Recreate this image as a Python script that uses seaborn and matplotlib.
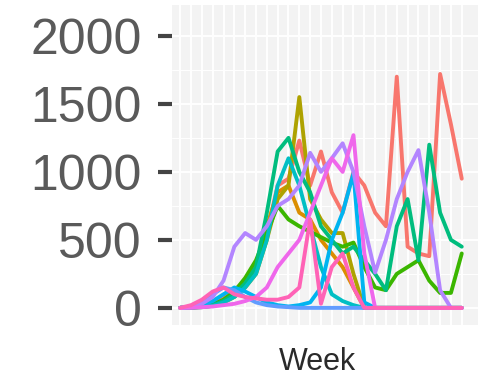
import matplotlib
matplotlib.use("Agg")
import matplotlib.pyplot as plt
import seaborn as sns
import numpy as np
import pandas as pd

# weekly counts per group
weeks = list(range(1, 28))

salmon = [0, 5, 15, 40, 80, 130, 200, 300, 550, 900, 950, 1230, 900, 1150, 850,
          700, 1000, 900, 700, 600, 1700, 450, 400, 380, 1720, 1350, 950]
orange = [0, 2, 8, 20, 50, 100, 180, 300, 600, 850, 900, 700, 650, 500, 400,
          300, 150, 0, 0, 0, 0, 0, 0, 0, 0, 0, 0]
olive = [0, 2, 5, 15, 40, 80, 150, 250, 500, 800, 900, 1550, 800, 650, 550,
         550, 250, 0, 0, 0, 0, 0, 0, 0, 0, 0, 0]
green = [0, 3, 10, 25, 60, 120, 220, 350, 550, 750, 650, 600, 560, 520, 480,
         450, 480, 300, 150, 130, 250, 300, 350, 200, 110, 110, 400]
teal_green = [0, 2, 8, 20, 50, 100, 180, 300, 700, 1150, 1250, 1000, 850, 600, 500,
              400, 450, 350, 250, 130, 600, 800, 350, 1200, 700, 500, 450]
teal = [0, 2, 5, 15, 40, 80, 150, 250, 500, 900, 1100, 900, 600, 300, 100,
        50, 20, 0, 0, 0, 0, 0, 0, 0, 0, 0, 0]
sky = [0, 5, 20, 50, 100, 150, 120, 80, 40, 20, 10, 20, 40, 150, 500,
       700, 990, 40, 0, 0, 0, 0, 0, 0, 0, 0, 0]
blue = [0, 10, 40, 100, 150, 130, 80, 40, 20, 10, 5, 0, 0, 0, 0,
        0, 0, 0, 0, 0, 0, 0, 0, 0, 0, 0, 0]
purple = [0, 10, 30, 80, 200, 450, 550, 500, 600, 750, 800, 900, 1140, 1000, 1100,
          1210, 1000, 600, 260, 500, 800, 1000, 1160, 700, 130, 0, 0]
magenta = [0, 0, 5, 10, 20, 30, 50, 80, 150, 300, 400, 500, 700, 900, 1100,
           1000, 1270, 400, 0, 0, 0, 0, 0, 0, 0, 0, 0]
pink = [0, 20, 60, 120, 150, 100, 80, 70, 60, 60, 80, 150, 650, 30, 300,
        400, 150, 0, 0, 0, 0, 0, 0, 0, 0, 0, 0]

series = {
    "a": salmon, "b": orange, "c": olive, "d": green, "e": teal_green,
    "f": teal, "g": sky, "h": blue, "i": purple, "j": magenta, "k": pink,
}
colors = ["#F8766D", "#DB8E00", "#AEA200", "#3BB600", "#00BD7E", "#00BFC4",
          "#00B4F0", "#619CFF", "#B385FF", "#EF67EB", "#FF63B6"]

df = pd.DataFrame([
    {"Week": w, "count": v, "group": g}
    for g, vals in series.items() for w, v in zip(weeks, vals)
])

sns.set_theme(style="white")
plt.rcParams["font.family"] = ["Liberation Sans", "DejaVu Sans"]

fig = plt.figure(figsize=(4.78, 3.76), dpi=100)
ax = fig.add_axes([0.36, 0.136, 0.64, 0.851])
ax.set_facecolor("#F3F3F3")

sns.lineplot(data=df, x="Week", y="count", hue="group", palette=colors,
             linewidth=2.8, legend=False, ax=ax, zorder=3)

ax.set_xlim(weeks[0] - 0.75, weeks[-1] + 1.5)
ax.set_ylim(-125, 2228)
ax.set_yticks([0, 500, 1000, 1500, 2000])
ax.set_yticks([250, 750, 1250, 1750], minor=True)
ax.set_xticks(weeks)
ax.set_xticklabels([])

ax.grid(True, which="major", axis="both", color="white", linewidth=1.4, zorder=0)
ax.grid(True, which="minor", axis="y", color="white", linewidth=0.7, zorder=0)
ax.set_axisbelow(True)
for s in ax.spines.values():
    s.set_visible(False)

ax.tick_params(axis="y", which="major", length=10, width=3, color="#444444",
               labelsize=36, labelcolor="#5A5A5A", pad=12, left=True)
ax.tick_params(axis="y", which="minor", length=0)
ax.tick_params(axis="x", length=0)

ax.set_ylabel("")
ax.set_xlabel("Week", fontsize=22, color="#2A2A2A")
ax.xaxis.set_label_coords(0.474, -0.068)

fig.savefig("out.png", dpi=100)
plt.close(fig)
